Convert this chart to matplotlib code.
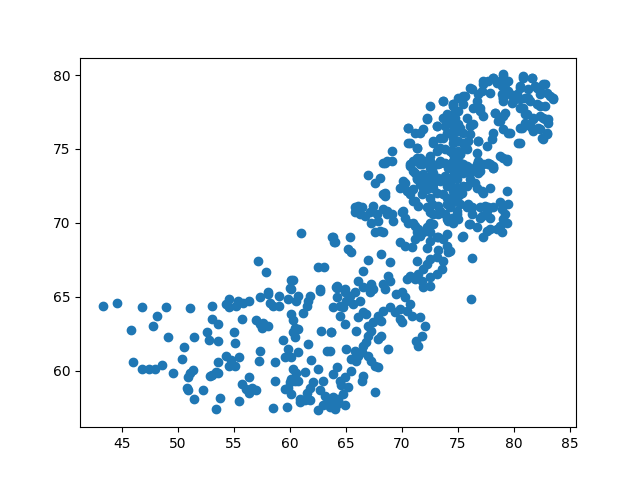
import matplotlib
matplotlib.use("Agg")
import matplotlib.pyplot as plt

# puntos leidos a ojo de la figura, agrupados por zona (x, y)
lower_left = [
    (43.3, 64.4), (44.6, 64.55), (46.8, 64.3), (48.95, 64.3), (48.2, 63.7), (47.8, 63.0),
    (45.8, 62.75), (51.1, 64.25), (53.1, 64.4), (53.1, 63.5), (52.6, 62.6), (52.8, 62.1),
    (49.1, 62.3), (51.5, 62.3), (50.6, 61.6), (50.4, 60.75), (46.0, 60.6), (46.8, 60.1),
    (47.4, 60.1), (48.0, 60.1), (48.6, 60.35), (49.6, 59.8), (51.4, 60.05), (51.1, 59.8),
    (50.9, 59.55), (50.8, 58.85), (50.9, 58.65), (52.3, 58.65), (51.5, 58.1), (53.1, 59.7),
    (53.6, 59.8), (53.8, 58.15), (53.45, 57.4), (53.6, 60.55), (53.6, 62.0), (53.6, 63.15),
]

lower_mid = [
    (60.15, 65.5), (60.1, 66.1), (62.7, 65.4), (64.2, 65.6), (61.8, 65.05), (61.6, 64.7),
    (61.5, 64.4), (61.2, 63.9), (60.7, 65.05), (60.6, 64.7), (59.85, 64.85), (59.0, 65.05),
    (58.1, 65.2), (57.3, 65.0), (58.2, 64.6), (58.5, 64.4), (59.0, 64.4), (56.4, 64.7),
    (55.8, 64.6), (55.4, 64.7), (54.6, 64.85), (54.35, 64.5), (54.6, 64.3), (55.2, 64.4),
    (55.7, 63.5), (57.0, 63.4), (57.3, 63.15), (57.6, 63.25), (58.1, 63.0), (57.5, 62.9),
    (60.15, 63.8), (60.3, 63.4), (60.45, 62.9), (60.75, 62.8), (60.3, 62.6), (60.45, 62.25),
    (59.4, 62.05), (62.8, 62.7), (63.7, 62.6), (55.0, 62.6), (55.15, 61.85), (61.6, 61.8),
    (57.3, 61.35), (59.85, 61.45), (60.15, 60.9), (60.75, 61.25), (59.55, 60.9), (63.3, 61.35),
    (54.35, 61.0), (54.8, 60.7), (55.1, 60.3), (55.5, 60.9), (54.6, 60.3), (53.45, 59.9),
    (52.85, 59.65), (57.25, 60.65), (58.65, 60.6), (61.9, 60.7), (62.5, 60.1), (60.3, 60.1),
    (60.6, 59.8), (60.15, 59.4), (60.45, 59.3), (60.0, 59.2), (60.75, 59.3), (61.35, 59.9),
    (56.4, 59.55), (55.7, 59.1), (56.1, 58.75), (56.6, 58.85), (57.0, 58.65), (56.4, 58.5),
    (58.65, 59.3), (59.55, 58.75), (59.85, 58.85), (60.15, 58.4), (62.95, 59.3), (62.1, 59.2),
    (61.8, 58.85), (61.5, 58.5), (60.9, 58.1), (61.35, 58.0), (61.8, 58.0), (62.7, 58.65),
    (63.1, 58.3), (63.4, 57.95), (63.85, 58.2), (64.3, 57.95), (62.95, 57.65), (62.5, 57.3),
    (63.6, 57.5), (55.5, 57.95), (58.5, 57.45), (59.75, 57.5), (60.9, 57.85),
]

lower_right = [
    (64.17, 65.74), (64.17, 64.95), (64.91, 65.29), (65.36, 65.07), (65.8, 65.29), (65.06, 64.73),
    (64.46, 64.39), (63.87, 64.28), (64.76, 64.28), (65.65, 64.5), (66.25, 64.73), (66.55, 65.63),
    (67.14, 65.29), (67.29, 65.74), (68.33, 65.85), (68.48, 65.52), (69.52, 65.18), (69.97, 65.29),
    (70.27, 64.95), (70.71, 64.5), (70.42, 64.05), (69.82, 64.17), (69.37, 63.94), (68.93, 64.28),
    (68.33, 64.05), (67.89, 63.72), (68.18, 63.38), (67.44, 63.27), (66.99, 63.04), (66.55, 63.94),
    (66.1, 63.6), (66.84, 63.83), (64.46, 63.72), (64.91, 63.15), (65.95, 62.7), (63.72, 62.59),
    (67.29, 62.7), (66.99, 62.36), (68.18, 62.36), (67.89, 62.14), (69.82, 63.49), (69.97, 63.27),
    (70.86, 63.72), (71.6, 63.6), (72.05, 63.04), (71.75, 62.36), (71.3, 62.03), (71.46, 61.69),
    (68.78, 61.46), (66.84, 61.91), (66.55, 61.69), (66.4, 61.24), (66.1, 61.01), (65.8, 61.35),
    (65.06, 61.46), (65.5, 60.79), (65.95, 60.67), (66.99, 61.01), (67.29, 60.67), (67.59, 60.34),
    (67.89, 60.22), (66.55, 59.66), (66.4, 59.32), (65.5, 60.0), (64.91, 59.55), (64.46, 59.32),
    (64.17, 60.22), (63.87, 59.77), (64.61, 58.99), (65.2, 58.87), (64.76, 58.42), (64.31, 58.08),
    (64.17, 57.75), (63.72, 57.75), (64.02, 57.41), (64.91, 57.64), (67.59, 58.53), (63.57, 61.35),
    (76.15, 64.85),
]

middle_band = [
    (61.04, 69.3), (63.78, 69.06), (63.96, 68.67), (57.17, 67.43), (57.92, 66.69), (62.53, 67.03),
    (63.07, 67.03), (60.3, 66.15), (60.0, 65.56), (58.07, 65.29), (62.68, 65.52), (64.08, 65.68),
    (68.48, 74.08), (66.99, 73.24), (67.59, 72.73), (68.03, 73.06), (68.48, 72.05), (68.48, 71.83),
    (65.8, 71.04), (66.1, 71.15), (66.4, 71.04), (65.8, 70.7), (66.25, 70.59), (66.7, 70.47),
    (67.14, 70.7), (67.44, 71.15), (67.74, 70.59), (68.33, 70.92), (68.63, 70.59), (69.08, 70.59),
    (67.29, 70.02), (67.89, 70.14), (68.03, 69.46), (67.59, 69.35), (63.87, 69.01), (64.02, 68.67),
    (65.36, 69.01), (65.2, 68.22), (65.5, 68.0), (68.18, 67.88), (68.93, 67.32), (66.99, 67.48),
    (66.55, 66.76), (66.1, 66.08), (67.29, 65.86), (67.44, 65.52), (68.78, 66.42), (68.93, 66.08),
    (70.42, 66.19), (64.91, 65.52), (64.17, 65.63), (69.82, 68.67), (70.27, 68.45), (70.86, 68.33),
    (69.97, 70.7), (70.27, 70.36), (70.56, 70.02), (69.82, 72.39), (70.27, 72.73), (70.71, 71.94),
    (71.16, 71.49), (71.46, 71.15), (71.01, 72.28), (71.6, 72.61), (71.75, 71.94), (72.2, 72.28),
    (72.5, 71.71), (73.09, 72.05), (73.69, 71.94), (73.99, 72.5), (74.43, 72.95), (74.73, 72.39),
    (75.03, 71.83), (74.58, 71.38), (73.99, 71.26), (73.24, 71.15), (72.65, 71.26), (72.5, 70.7),
    (73.24, 70.59), (73.84, 70.59), (74.13, 70.14), (74.58, 70.02), (72.5, 70.02), (72.2, 69.69),
    (72.5, 69.35), (71.9, 69.35), (71.46, 69.57), (71.16, 69.8), (71.6, 69.12), (71.16, 68.9),
    (72.5, 68.78), (73.09, 69.01), (73.69, 68.9), (73.99, 68.45), (74.13, 68.0), (73.24, 68.15),
    (73.09, 67.66), (72.2, 68.29), (72.5, 67.55), (72.2, 67.21), (71.9, 66.87), (71.46, 66.53),
    (71.16, 66.19), (71.75, 66.08), (72.5, 66.31), (73.09, 66.53), (73.54, 66.87), (73.69, 67.43),
    (70.71, 66.42), (71.31, 67.43), (71.9, 65.63), (72.5, 65.74),
    (70.71, 73.85), (71.16, 74.19), (71.75, 73.97), (72.35, 74.08), (72.65, 73.63), (73.24, 73.97),
    (73.84, 74.08), (74.43, 73.85), (75.03, 74.08), (71.16, 73.4), (71.75, 73.18), (72.5, 73.18),
    (73.24, 73.06), (73.84, 73.18), (74.73, 73.29), (72.8, 72.61), (71.31, 72.95),
    (74.59, 73.97), (75.18, 74.08), (75.78, 73.85), (74.74, 73.29), (75.48, 73.4), (74.29, 72.84),
    (74.89, 72.39), (75.33, 72.05), (75.78, 72.5), (76.08, 72.95), (76.52, 72.73), (76.67, 72.39),
    (77.12, 72.16), (76.97, 73.97), (77.71, 73.97), (78.16, 73.74), (76.82, 73.4), (79.35, 74.19),
    (74.59, 71.71), (75.18, 71.26), (74.89, 70.81), (74.44, 70.36), (75.03, 70.25), (75.93, 71.26),
    (76.22, 71.04), (76.97, 71.04), (77.42, 71.15), (77.71, 71.04), (77.12, 70.47), (77.86, 70.36),
    (78.75, 71.38), (79.41, 72.16), (79.5, 71.26), (78.9, 70.92), (79.2, 70.59), (79.05, 70.25),
    (79.35, 70.02), (78.75, 69.8), (78.9, 69.35), (77.86, 69.57), (77.27, 69.01), (76.02, 69.91),
    (75.33, 69.06), (74.29, 68.11), (76.28, 67.61),
    # relleno de la zona densa
    (70.72, 73.96), (71.61, 73.96), (72.5, 73.74), (73.4, 74.08), (74.29, 73.74), (75.78, 73.51),
    (76.67, 73.96), (77.86, 73.96), (76.97, 73.51), (71.31, 73.06), (72.21, 72.84), (71.91, 72.39),
    (72.8, 72.39), (73.4, 72.84), (73.99, 73.06), (74.88, 72.95), (75.48, 72.5), (74.59, 72.16),
    (73.99, 71.71), (75.18, 71.94), (77.27, 72.05), (77.86, 72.39), (70.12, 72.84), (70.42, 72.16),
    (71.02, 71.49), (72.21, 71.04), (72.8, 70.59), (73.4, 70.81), (74.29, 71.04), (74.88, 70.59),
    (73.99, 70.25), (72.8, 69.91), (72.21, 69.57), (71.02, 70.02), (70.12, 70.81), (68.64, 70.81),
    (68.34, 71.94), (75.78, 71.04), (76.22, 70.59), (77.56, 70.81), (78.16, 71.04), (76.97, 70.36),
    (76.67, 69.69), (76.08, 69.91), (77.56, 69.46), (78.46, 69.57), (75.48, 69.12), (73.99, 69.23),
    (73.25, 69.01), (71.31, 69.35), (68.34, 69.35), (69.23, 70.14),
]

upper_cluster = [
    (68.63, 74.19), (68.33, 74.08), (69.08, 74.19), (69.08, 74.87), (70.56, 76.45), (70.56, 75.43),
    (71.16, 76.11), (71.9, 76.33), (71.31, 75.09), (72.2, 77.01), (72.5, 77.91), (73.69, 78.25),
    (74.58, 78.02), (75.03, 78.47), (73.99, 77.35), (73.09, 76.56), (73.84, 76.56), (74.43, 76.67),
    (72.8, 75.54), (73.39, 75.77), (74.73, 77.12), (75.03, 76.22), (71.01, 74.19), (71.31, 74.42),
    (72.05, 74.19), (72.5, 74.53), (73.09, 74.87), (73.84, 74.98), (74.58, 75.43), (75.03, 74.87),
    (74.73, 74.19), (73.39, 74.19), (74.13, 73.74), (75.03, 77.57), (75.03, 75.54), (74.58, 74.64),
    (75.03, 73.74),
    (74.59, 78.02), (74.59, 77.35), (75.03, 76.67), (74.59, 76.22), (74.89, 75.54), (74.44, 74.87),
    (75.18, 74.64), (75.63, 75.09), (75.93, 75.54), (75.48, 76.11), (76.08, 76.56), (75.63, 78.58),
    (76.08, 79.15), (76.67, 78.25), (76.97, 77.57), (77.27, 77.23), (76.37, 77.8), (76.82, 78.7),
    (77.27, 79.37), (77.12, 78.92), (77.71, 79.6), (78.16, 79.82), (78.46, 79.49), (79.05, 80.05),
    (79.2, 79.37), (79.5, 78.92), (78.9, 78.7), (79.05, 78.25), (79.8, 78.14), (80.24, 78.7),
    (80.54, 79.15), (80.84, 79.82), (81.58, 79.82), (81.88, 79.26), (82.77, 79.37), (82.33, 78.92),
    (83.22, 78.58), (83.52, 78.36), (82.77, 77.91), (82.03, 78.02), (81.43, 78.25), (80.99, 78.47),
    (80.54, 77.8), (80.99, 77.35), (81.73, 77.12), (82.33, 77.23), (82.77, 77.01), (83.07, 76.78),
    (82.18, 76.45), (81.43, 76.56), (80.69, 76.45), (81.73, 76.22), (82.47, 75.77), (82.92, 76.0),
    (78.31, 77.46), (79.05, 77.23), (78.6, 76.9), (78.16, 76.11), (78.01, 75.66), (79.5, 76.11),
    (80.39, 75.43), (76.82, 75.54), (78.75, 74.53), (79.35, 74.31), (76.82, 74.19), (77.71, 74.08),
    (78.16, 73.86), (74.59, 74.19), (75.48, 73.97), (76.08, 73.74), (74.89, 73.63),
    # relleno de la zona densa
    (73.69, 78.24), (74.58, 77.9), (75.47, 78.02), (76.22, 79.03), (75.47, 78.58), (77.26, 79.6),
    (78.15, 79.82), (78.75, 79.6), (77.86, 78.81), (79.05, 78.47), (76.96, 77.79), (78.3, 77.45),
    (78.75, 76.89), (79.05, 76.33), (75.77, 77.12), (76.37, 76.67), (75.18, 76.44), (74.28, 76.89),
    (73.69, 77.12), (73.09, 76.55), (73.99, 76.1), (74.58, 75.77), (75.47, 75.43), (76.07, 75.99),
    (76.81, 75.54), (73.39, 75.09), (74.28, 74.86), (75.18, 74.64), (75.77, 74.98), (76.66, 74.75),
    (77.56, 75.2), (71.6, 74.41), (72.5, 74.19), (73.39, 74.08), (74.28, 73.85), (75.47, 73.74),
    (76.37, 73.51), (77.26, 73.96), (78.15, 73.74), (79.05, 74.41), (71.01, 73.51), (71.9, 73.29),
    (72.8, 73.4), (74.58, 73.18), (72.2, 77.12), (71.6, 76.1), (70.56, 76.44), (70.71, 75.43),
    (71.31, 75.09), (73.69, 75.77), (72.8, 75.43),
    (79.05, 79.94), (79.49, 79.6), (78.9, 79.26), (79.64, 78.7), (79.05, 78.47), (79.94, 78.25),
    (80.83, 79.94), (81.58, 79.82), (80.54, 79.26), (81.28, 79.04), (82.02, 79.15), (82.62, 79.37),
    (82.92, 78.81), (83.51, 78.47), (82.32, 78.7), (81.28, 78.47), (80.54, 78.36), (80.83, 77.8),
    (82.32, 77.91), (81.13, 77.35), (81.73, 77.01), (82.62, 77.12), (83.07, 77.01), (80.98, 76.78),
    (81.58, 76.45), (82.32, 76.33), (82.92, 76.11), (82.62, 75.66), (80.54, 76.45), (79.64, 76.11),
    (80.54, 75.43), (79.2, 77.46),
]

puntos = lower_left + lower_mid + lower_right + middle_band + upper_cluster
x = [p[0] for p in puntos]
y = [p[1] for p in puntos]

fig, ax = plt.subplots(figsize=(6.4, 4.8), dpi=100)
ax.scatter(x, y)
fig.savefig("out.png")
